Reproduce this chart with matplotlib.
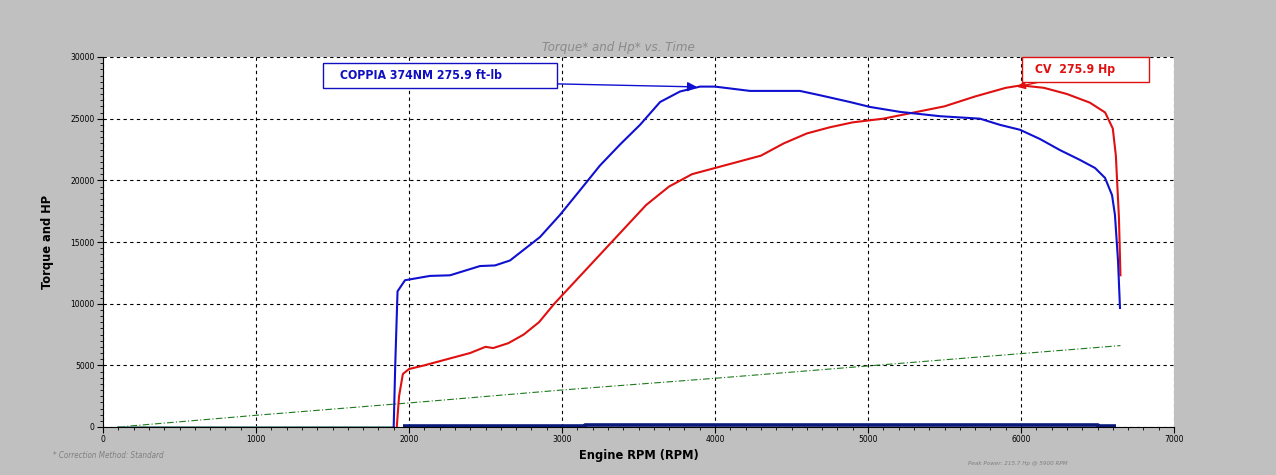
import matplotlib
matplotlib.use("Agg")
import matplotlib.pyplot as plt
from matplotlib.patches import Rectangle
from matplotlib.ticker import MultipleLocator

# data
torque_rpm = [1900, 1910, 1925, 1974, 2137, 2268, 2464, 2562, 2660, 2856, 2987, 3118,
              3248, 3379, 3510, 3641, 3771, 3902, 4000, 4229, 4555, 4686, 4882, 5013,
              5209, 5471, 5732, 5862, 5993, 6124, 6255, 6386, 6484, 6549, 6595, 6614,
              6634, 6647]
torque_val = [0, 5000, 11000, 11900, 12250, 12300, 13050, 13100, 13500, 15400, 17200, 19200,
              21200, 22900, 24500, 26350, 27200, 27600, 27600, 27250, 27250, 26900, 26350, 25950,
              25550, 25200, 25000, 24500, 24100, 23350, 22450, 21650, 21000, 20200, 18800, 17200,
              13500, 9650]

hp_rpm = [1920, 1935, 1960, 2000, 2100, 2250, 2400, 2500, 2550, 2650, 2750, 2850,
          2950, 3100, 3250, 3400, 3550, 3700, 3850, 4000, 4150, 4300, 4450, 4600,
          4750, 4900, 5100, 5300, 5500, 5700, 5900, 6000, 6150, 6300, 6450, 6550,
          6600, 6620, 6640, 6650]
hp_val = [0, 2500, 4300, 4700, 5000, 5500, 6000, 6500, 6400, 6800, 7500, 8500,
          10000, 12000, 14000, 16000, 18000, 19500, 20500, 21000, 21500, 22000, 23000, 23800,
          24300, 24700, 25000, 25500, 26000, 26800, 27500, 27700, 27500, 27000, 26300, 25500,
          24200, 22000, 17000, 12300]

rpm_trace_x = [100, 1000, 2000, 3000, 4000, 5000, 6000, 6650]
rpm_trace_y = [0, 950, 1950, 3000, 3950, 4950, 5950, 6600]

idle_x = [100, 1900]
idle_y = [0, 0]
base_x = [1960, 3150, 3150, 6500, 6500, 6620]
base_y = [80, 80, 130, 130, 100, 100]

torque_label = "COPPIA 374NM 275.9 ft-lb"
hp_label = "CV  275.9 Hp"
torque_peak = (3882, 27575)
hp_peak = (5974, 27575)

FONT = dict(family="DejaVu Sans", stretch="condensed")

fig = plt.figure(figsize=(12.76, 4.75), dpi=100, facecolor="#c0c0c0")
ax = fig.add_axes([103 / 1276, 48 / 475, 1071 / 1276, 370 / 475])
ax.set_facecolor("white")

ax.plot(rpm_trace_x, rpm_trace_y, color="#1f7a1f", lw=0.8, ls=(0, (6, 2, 1, 2)))
ax.plot(idle_x, idle_y, color="#5f8f8f", lw=1.2)
ax.plot(base_x, base_y, color="#0a1a7a", lw=2.6, solid_capstyle="butt")
ax.plot(hp_rpm, hp_val, color="#e01010", lw=1.5)
ax.plot(torque_rpm, torque_val, color="#1010d0", lw=1.5)

ax.set_xlim(0, 7000)
ax.set_ylim(0, 30000)
ax.xaxis.set_major_locator(MultipleLocator(1000))
ax.xaxis.set_minor_locator(MultipleLocator(100))
ax.yaxis.set_major_locator(MultipleLocator(5000))
ax.yaxis.set_minor_locator(MultipleLocator(500))
ax.tick_params(which="major", length=4, labelsize=5.5, pad=2)
ax.tick_params(which="minor", length=2)
ax.grid(True, which="major", color="black", ls=(0, (3, 3)), lw=0.8)
for s in ("top", "right"):
    ax.spines[s].set_visible(False)

ax.set_xlabel("Engine RPM (RPM)", fontsize=9.2, fontweight="bold", labelpad=3, **FONT)
ax.set_ylabel("Torque and HP", fontsize=9.2, fontweight="bold", labelpad=12, **FONT)

fig.text(618 / 1276, 1 - 47 / 475, "Torque* and Hp* vs. Time", ha="center", va="center",
         fontsize=9.5, style="italic", color="#8a8a8a", **FONT)
fig.text(53 / 1276, 1 - 455 / 475, "* Correction Method: Standard", ha="left", va="center",
         fontsize=5.8, style="italic", color="#808080", **FONT)
fig.text(968 / 1276, 1 - 464 / 475, "Peak Power: 215.7 Hp @ 5900 RPM", ha="left", va="center",
         fontsize=4.5, style="italic", color="#808080", **FONT)

# annotation boxes
ax.add_patch(Rectangle((1438, 27490), 1529, 2030, fc="white", ec="#1010c0", lw=1, zorder=5))
ax.text(1549, 28470, torque_label, fontsize=8.8, fontweight="bold", color="#1010c0",
        ha="left", va="center", zorder=6, **FONT)
ax.annotate("", xy=torque_peak, xytext=(2967, 27820),
            arrowprops=dict(arrowstyle="-|>", color="#1010d0", lw=1, mutation_scale=14,
                            shrinkA=0, shrinkB=0))

ax.add_patch(Rectangle((6007, 27980), 830, 2020, fc="white", ec="#e01010", lw=1, zorder=5,
                       clip_on=False))
ax.text(6092, 28950, hp_label, fontsize=8.8, fontweight="bold", color="#e01010",
        ha="left", va="center", zorder=6, **FONT)
ax.annotate("", xy=hp_peak, xytext=(6124, 27980),
            arrowprops=dict(arrowstyle="-|>", color="#e01010", lw=1, mutation_scale=12,
                            shrinkA=0, shrinkB=0))

fig.savefig("out.png", dpi=100, facecolor=fig.get_facecolor())
